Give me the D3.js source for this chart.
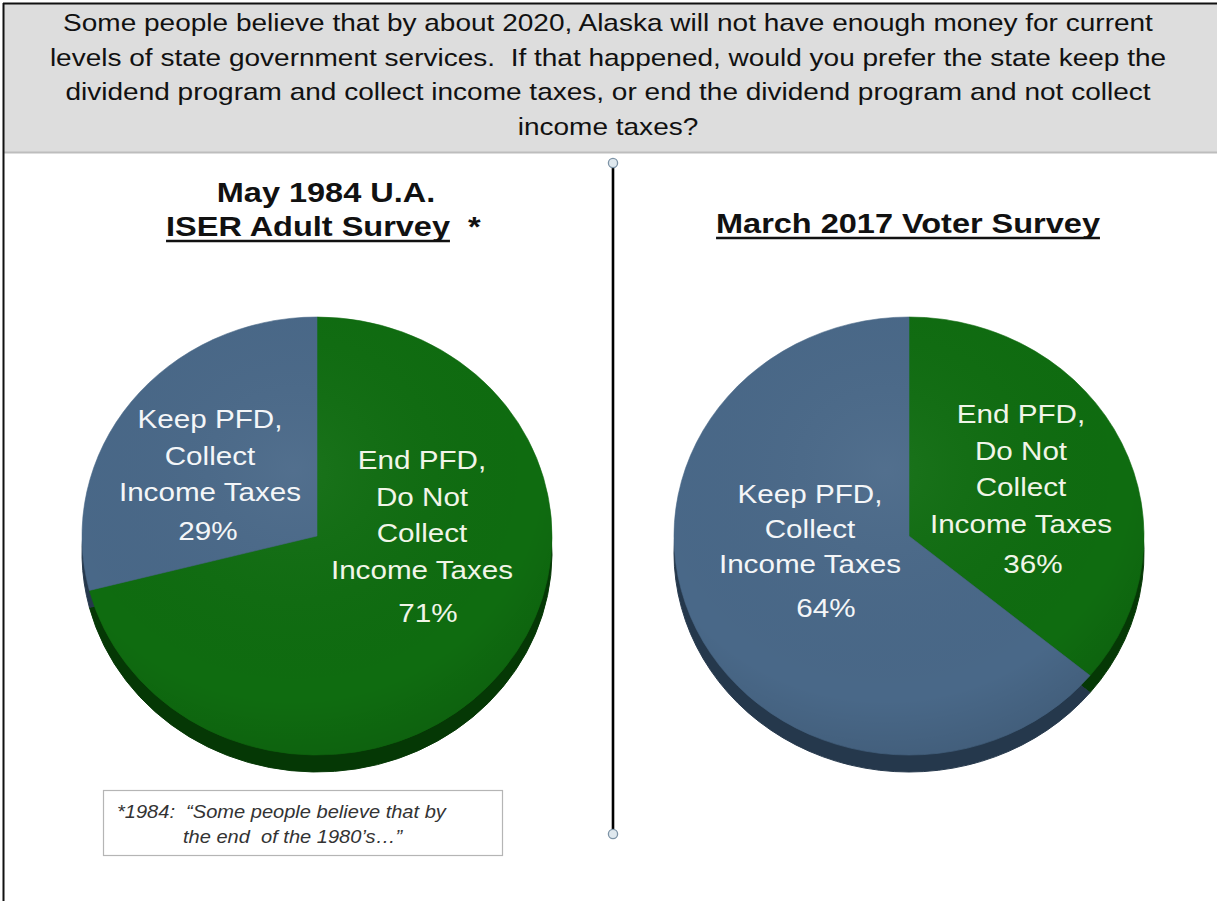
<!DOCTYPE html>
<html>
<head>
<meta charset="utf-8">
<script src="https://cdn.jsdelivr.net/npm/d3@7"></script>
<style>
  html, body { margin: 0; padding: 0; background: #fff; }
  svg { display: block; font-family: "Liberation Sans", Arial, sans-serif; }
</style>
</head>
<body>
<svg id="chart" width="1217" height="901"></svg>
<script>
// ---- data ----
const questionLines = [
  "Some people believe that by about 2020, Alaska will not have enough money for current",
  "levels of state government services.  If that happened, would you prefer the state keep the",
  "dividend program and collect income taxes, or end the dividend program and not collect",
  "income taxes?"
];
const categories = ["End PFD, Do Not Collect Income Taxes", "Keep PFD, Collect Income Taxes"];
const categoryLabelLines = [
  ["End PFD,", "Do Not", "Collect", "Income Taxes"],
  ["Keep PFD,", "Collect", "Income Taxes"]
];
const values1984 = [71, 29];
const values2017 = [36, 64];
const title1984 = ["May 1984 U.A.", "ISER Adult Survey"];
const title2017 = ["March 2017 Voter Survey"];
const footnoteLines = ["*1984:  \u201cSome people believe that by", "the end  of the 1980\u2019s\u2026\u201d"];

// ---- styling / layout ----
const W = 1217, H = 901;
const STRETCH = 1.14;              // horizontal text stretch
const faceColor = d3.scaleOrdinal().domain(categories).range(["#0f6c10", "#496888"]);
const rimColor  = d3.scaleOrdinal().domain(categories).range(["#053805", "#25384c"]);

const svg = d3.select("#chart");

// header band with question text
svg.append("rect").attr("x", 4).attr("y", 4).attr("width", W - 4).attr("height", 148)
  .attr("fill", "#dddddd");
svg.append("line").attr("x1", 4).attr("x2", W).attr("y1", 152.5).attr("y2", 152.5)
  .attr("stroke", "#bdbdbd").attr("stroke-width", 2);
svg.append("line").attr("x1", 3).attr("x2", W).attr("y1", 3.5).attr("y2", 3.5)
  .attr("stroke", "#111").attr("stroke-width", 2);
svg.append("line").attr("x1", 3.5).attr("x2", 3.5).attr("y1", 3).attr("y2", H)
  .attr("stroke", "#111").attr("stroke-width", 2);

const qBase = [31, 65.5, 100, 134.5];
questionLines.forEach((t, i) => {
  svg.append("g").attr("transform", `translate(608,${qBase[i]}) scale(1.167,1)`)
    .append("text").attr("text-anchor", "middle").attr("font-size", 24)
    .attr("fill", "#111").style("white-space", "pre").text(t);
});

// divider with end handles
svg.append("line").attr("x1", 613).attr("x2", 613).attr("y1", 167).attr("y2", 830)
  .attr("stroke", "#000").attr("stroke-width", 2.6);
[163, 834].forEach(y => {
  svg.append("circle").attr("cx", 613).attr("cy", y).attr("r", 4.6)
    .attr("fill", "#dfe8ee").attr("stroke", "#7d93a6").attr("stroke-width", 1.3);
});

// gradient giving the pie faces a little shading
const defs = svg.append("defs");
const grad = defs.append("radialGradient").attr("id", "faceShade")
  .attr("cx", "45%").attr("cy", "35%").attr("r", "70%");
grad.append("stop").attr("offset", "0%").attr("stop-color", "#fff").attr("stop-opacity", 0.05);
grad.append("stop").attr("offset", "75%").attr("stop-color", "#000").attr("stop-opacity", 0.0);
grad.append("stop").attr("offset", "100%").attr("stop-color", "#000").attr("stop-opacity", 0.12);

const R = 235;
const pie = d3.pie().sort(null).value(d => d.value);
const arc = d3.arc().innerRadius(0).outerRadius(R);

function titleText(g, x, y, txt, underline) {
  const tg = g.append("g").attr("transform", `translate(${x},${y}) scale(${STRETCH},1)`);
  const t = tg.append("text").attr("text-anchor", "middle").attr("font-size", 28.5)
    .attr("font-weight", "bold").attr("fill", "#111").text(txt);
  if (underline) {
    const w = t.node().getComputedTextLength();
    tg.append("line").attr("x1", -w / 2).attr("x2", w / 2).attr("y1", 5).attr("y2", 5)
      .attr("stroke", "#111").attr("stroke-width", 2.6);
  }
}

function drawPie(cx, cy, sy, values, labelPos) {
  const data = categories.map((c, i) => ({ key: c, value: values[i] }));
  const arcs = pie(data);
  const g = svg.append("g");
  // side wall: the same pie dropped a little and darkened
  g.append("g").attr("transform", `translate(${cx},${cy + 17}) scale(1,${sy})`)
    .selectAll("path").data(arcs).join("path")
    .attr("d", arc).attr("fill", d => rimColor(d.data.key))
    .attr("stroke", d => rimColor(d.data.key)).attr("stroke-width", 1);
  // top face
  const face = g.append("g").attr("transform", `translate(${cx},${cy}) scale(1,${sy})`);
  face.selectAll("path").data(arcs).join("path")
    .attr("d", arc).attr("fill", d => faceColor(d.data.key))
    .attr("stroke", d => faceColor(d.data.key)).attr("stroke-width", 0.6);
  face.append("circle").attr("r", R).attr("fill", "url(#faceShade)");

  // slice labels
  arcs.forEach((a, i) => {
    const p = labelPos[i];
    const lg = g.append("g");
    categoryLabelLines[i].forEach((ln, j) => {
      lg.append("g").attr("transform", `translate(${cx + p.dx},${p.y + j * p.step}) scale(${STRETCH},1)`)
        .append("text").attr("text-anchor", "middle").attr("font-size", 26)
        .attr("fill", i === 0 ? "#f1f5e8" : "#f4f6f8").text(ln);
    });
    lg.append("g").attr("transform", `translate(${cx + p.pdx},${p.py}) scale(${STRETCH},1)`)
      .append("text").attr("text-anchor", "middle").attr("font-size", 26)
      .attr("fill", i === 0 ? "#f1f5e8" : "#f4f6f8").text(a.data.value + "%");
  });
}

// 1984 survey
titleText(svg, 326, 202, title1984[0], false);
titleText(svg, 308, 236, title1984[1], true);
svg.append("g").attr("transform", `translate(468,236) scale(${STRETCH},1)`)
  .append("text").attr("font-size", 28.5).attr("font-weight", "bold").attr("fill", "#111").text("*");
drawPie(317, 536, 219 / 235, values1984, [
  { dx: 105, y: 469, step: 36.5, pdx: 111, py: 622 },
  { dx: -107, y: 428, step: 36.5, pdx: -109, py: 540 }
]);

// 2017 survey
titleText(svg, 908, 233, title2017[0], true);
drawPie(909, 536, 219 / 235, values2017, [
  { dx: 112, y: 423, step: 36.5, pdx: 124, py: 573 },
  { dx: -99, y: 503, step: 35, pdx: -83, py: 617 }
]);

// footnote box
svg.append("rect").attr("x", 103.5).attr("y", 790.5).attr("width", 399).attr("height", 65)
  .attr("fill", "#fff").attr("stroke", "#b5b5b5").attr("stroke-width", 1.2);
const fPos = [[117, 818], [183, 843]];
footnoteLines.forEach((t, i) => {
  svg.append("g").attr("transform", `translate(${fPos[i][0]},${fPos[i][1]}) scale(${STRETCH},1)`)
    .append("text").attr("font-size", 17.6).attr("font-style", "italic")
    .attr("fill", "#333").style("white-space", "pre").text(t);
});
</script>
</body>
</html>
